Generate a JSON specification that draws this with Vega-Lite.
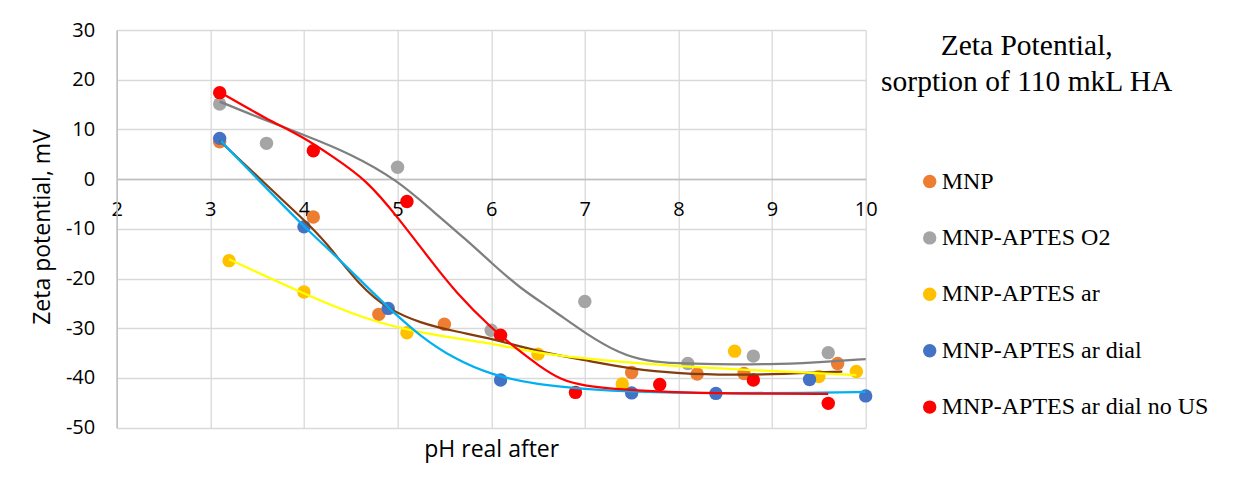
{
  "$schema": "https://vega.github.io/schema/vega-lite/v6.json",
  "width": 749,
  "height": 397.7,
  "autosize": {"type": "none"},
  "padding": {"left": 116.7, "top": 30, "right": 372.3, "bottom": 72.3},
  "background": "white",
  "config": {
    "view": {"stroke": null},
    "axis": {"gridColor": "#D9D9D9", "gridWidth": 1.3, "domainColor": "#BFBFBF", "domainWidth": 1.5, "ticks": false, "labelFont": "Open Sans", "titleFont": "Open Sans", "labelColor": "#000000", "titleColor": "#000000", "titleFontWeight": "normal"}
  },
  "title": {
    "text": ["Zeta Potential,", "sorption of 110 mkL HA"],
    "anchor": "end",
    "frame": "group",
    "align": "center",
    "dx": 161,
    "dy": 81,
    "font": "Liberation Serif",
    "fontSize": 29.5,
    "fontWeight": "normal",
    "color": "#000000",
    "lineHeight": 36
  },
  "datasets": {
    "pts": [
      {"s": "MNP", "x": 3.1, "y": 7.5}, {"s": "MNP", "x": 4.1, "y": -7.6}, {"s": "MNP", "x": 4.8, "y": -27.2}, {"s": "MNP", "x": 5.5, "y": -29.2},
      {"s": "MNP", "x": 7.5, "y": -38.9}, {"s": "MNP", "x": 8.2, "y": -39.2}, {"s": "MNP", "x": 8.7, "y": -39.1}, {"s": "MNP", "x": 9.7, "y": -37.1},
      {"s": "MNP-APTES O2", "x": 3.1, "y": 15.1}, {"s": "MNP-APTES O2", "x": 3.6, "y": 7.2}, {"s": "MNP-APTES O2", "x": 5.0, "y": 2.4}, {"s": "MNP-APTES O2", "x": 6.0, "y": -30.4},
      {"s": "MNP-APTES O2", "x": 7.0, "y": -24.6}, {"s": "MNP-APTES O2", "x": 8.1, "y": -37.1}, {"s": "MNP-APTES O2", "x": 8.8, "y": -35.6}, {"s": "MNP-APTES O2", "x": 9.6, "y": -34.9},
      {"s": "MNP-APTES ar", "x": 3.2, "y": -16.4}, {"s": "MNP-APTES ar", "x": 4.0, "y": -22.7}, {"s": "MNP-APTES ar", "x": 5.1, "y": -30.9}, {"s": "MNP-APTES ar", "x": 6.5, "y": -35.2},
      {"s": "MNP-APTES ar", "x": 7.4, "y": -41.2}, {"s": "MNP-APTES ar", "x": 8.6, "y": -34.6}, {"s": "MNP-APTES ar", "x": 9.5, "y": -39.7}, {"s": "MNP-APTES ar", "x": 9.9, "y": -38.7},
      {"s": "MNP-APTES ar dial", "x": 3.1, "y": 8.2}, {"s": "MNP-APTES ar dial", "x": 4.0, "y": -9.6}, {"s": "MNP-APTES ar dial", "x": 4.9, "y": -26.0}, {"s": "MNP-APTES ar dial", "x": 6.1, "y": -40.4},
      {"s": "MNP-APTES ar dial", "x": 7.5, "y": -43.0}, {"s": "MNP-APTES ar dial", "x": 8.4, "y": -43.1}, {"s": "MNP-APTES ar dial", "x": 9.4, "y": -40.3}, {"s": "MNP-APTES ar dial", "x": 10.0, "y": -43.6},
      {"s": "MNP-APTES ar dial no US", "x": 3.1, "y": 17.4}, {"s": "MNP-APTES ar dial no US", "x": 4.1, "y": 5.7}, {"s": "MNP-APTES ar dial no US", "x": 5.1, "y": -4.5}, {"s": "MNP-APTES ar dial no US", "x": 6.1, "y": -31.4},
      {"s": "MNP-APTES ar dial no US", "x": 6.9, "y": -42.9}, {"s": "MNP-APTES ar dial no US", "x": 7.8, "y": -41.3}, {"s": "MNP-APTES ar dial no US", "x": 8.8, "y": -40.4}, {"s": "MNP-APTES ar dial no US", "x": 9.6, "y": -45.1}
    ],
    "trend": [
      {"s": "MNP", "x": 3.1, "y": 7.7}, {"s": "MNP", "x": 3.5, "y": 0.6}, {"s": "MNP", "x": 4.0, "y": -8.2}, {"s": "MNP", "x": 4.22, "y": -12.3},
      {"s": "MNP", "x": 4.6, "y": -21.6}, {"s": "MNP", "x": 4.91, "y": -26.3}, {"s": "MNP", "x": 5.24, "y": -28.9}, {"s": "MNP", "x": 5.6, "y": -30.6},
      {"s": "MNP", "x": 6.0, "y": -32.0}, {"s": "MNP", "x": 6.5, "y": -34.7}, {"s": "MNP", "x": 7.0, "y": -36.4}, {"s": "MNP", "x": 7.5, "y": -38.2},
      {"s": "MNP", "x": 8.0, "y": -39.1}, {"s": "MNP", "x": 8.6, "y": -39.4}, {"s": "MNP", "x": 9.1, "y": -39.2}, {"s": "MNP", "x": 9.75, "y": -38.7},
      {"s": "MNP-APTES O2", "x": 3.1, "y": 15.6}, {"s": "MNP-APTES O2", "x": 3.5, "y": 12.5}, {"s": "MNP-APTES O2", "x": 4.0, "y": 8.9}, {"s": "MNP-APTES O2", "x": 4.49, "y": 5.2},
      {"s": "MNP-APTES O2", "x": 5.0, "y": -0.2}, {"s": "MNP-APTES O2", "x": 5.38, "y": -6.5}, {"s": "MNP-APTES O2", "x": 5.74, "y": -12.3}, {"s": "MNP-APTES O2", "x": 6.0, "y": -16.8},
      {"s": "MNP-APTES O2", "x": 6.31, "y": -22.0}, {"s": "MNP-APTES O2", "x": 6.66, "y": -26.3}, {"s": "MNP-APTES O2", "x": 7.0, "y": -31.0}, {"s": "MNP-APTES O2", "x": 7.38, "y": -35.2},
      {"s": "MNP-APTES O2", "x": 7.66, "y": -36.6}, {"s": "MNP-APTES O2", "x": 8.0, "y": -37.1}, {"s": "MNP-APTES O2", "x": 8.37, "y": -37.2}, {"s": "MNP-APTES O2", "x": 9.0, "y": -37.3},
      {"s": "MNP-APTES O2", "x": 9.44, "y": -36.9}, {"s": "MNP-APTES O2", "x": 10.0, "y": -36.2},
      {"s": "MNP-APTES ar", "x": 3.2, "y": -16.1}, {"s": "MNP-APTES ar", "x": 4.0, "y": -23.1}, {"s": "MNP-APTES ar", "x": 4.67, "y": -28.3}, {"s": "MNP-APTES ar", "x": 5.24, "y": -31.0},
      {"s": "MNP-APTES ar", "x": 6.0, "y": -33.0}, {"s": "MNP-APTES ar", "x": 6.5, "y": -35.0}, {"s": "MNP-APTES ar", "x": 7.0, "y": -36.1}, {"s": "MNP-APTES ar", "x": 7.37, "y": -36.7},
      {"s": "MNP-APTES ar", "x": 8.0, "y": -37.7}, {"s": "MNP-APTES ar", "x": 9.0, "y": -38.6}, {"s": "MNP-APTES ar", "x": 9.9, "y": -39.4},
      {"s": "MNP-APTES ar dial", "x": 3.11, "y": 7.7}, {"s": "MNP-APTES ar dial", "x": 3.5, "y": 0.1}, {"s": "MNP-APTES ar dial", "x": 4.0, "y": -9.6}, {"s": "MNP-APTES ar dial", "x": 4.31, "y": -14.9},
      {"s": "MNP-APTES ar dial", "x": 4.67, "y": -21.6}, {"s": "MNP-APTES ar dial", "x": 4.91, "y": -26.0}, {"s": "MNP-APTES ar dial", "x": 5.24, "y": -31.6}, {"s": "MNP-APTES ar dial", "x": 5.6, "y": -36.1},
      {"s": "MNP-APTES ar dial", "x": 6.0, "y": -39.4}, {"s": "MNP-APTES ar dial", "x": 6.5, "y": -41.4}, {"s": "MNP-APTES ar dial", "x": 7.0, "y": -42.2}, {"s": "MNP-APTES ar dial", "x": 7.5, "y": -42.8},
      {"s": "MNP-APTES ar dial", "x": 8.4, "y": -43.1}, {"s": "MNP-APTES ar dial", "x": 9.4, "y": -43.0}, {"s": "MNP-APTES ar dial", "x": 10.0, "y": -42.8},
      {"s": "MNP-APTES ar dial no US", "x": 3.11, "y": 17.4}, {"s": "MNP-APTES ar dial no US", "x": 3.6, "y": 12.1}, {"s": "MNP-APTES ar dial no US", "x": 4.0, "y": 8.4}, {"s": "MNP-APTES ar dial no US", "x": 4.31, "y": 4.5},
      {"s": "MNP-APTES ar dial no US", "x": 4.67, "y": -0.2}, {"s": "MNP-APTES ar dial no US", "x": 5.0, "y": -7.6}, {"s": "MNP-APTES ar dial no US", "x": 5.38, "y": -17.0}, {"s": "MNP-APTES ar dial no US", "x": 5.61, "y": -22.5},
      {"s": "MNP-APTES ar dial no US", "x": 6.0, "y": -30.0}, {"s": "MNP-APTES ar dial no US", "x": 6.31, "y": -34.7}, {"s": "MNP-APTES ar dial no US", "x": 6.5, "y": -37.4}, {"s": "MNP-APTES ar dial no US", "x": 6.74, "y": -40.4},
      {"s": "MNP-APTES ar dial no US", "x": 7.0, "y": -41.6}, {"s": "MNP-APTES ar dial no US", "x": 7.37, "y": -42.3}, {"s": "MNP-APTES ar dial no US", "x": 8.0, "y": -43.0}, {"s": "MNP-APTES ar dial no US", "x": 9.0, "y": -43.2},
      {"s": "MNP-APTES ar dial no US", "x": 9.6, "y": -43.2}
    ]
  },
  "layer": [
    {
      "data": {"name": "pts"},
      "mark": {"type": "circle", "size": 180, "opacity": 1, "strokeWidth": 0},
      "encoding": {
        "x": {
          "field": "x", "type": "quantitative",
          "scale": {"domain": [2, 10], "nice": false, "zero": false},
          "axis": {"values": [2, 3, 4, 5, 6, 7, 8, 9, 10], "labelExpr": "datum.value < 0 ? '-' + abs(datum.value) : '' + datum.value", "title": "pH real after", "offset": -248.7, "labelFontSize": 20, "labelPadding": 20, "titleFontSize": 23, "titleY": 277, "titleBaseline": "alphabetic", "labelFlush": false, "labelOverlap": false, "grid": true}
        },
        "y": {
          "field": "y", "type": "quantitative",
          "scale": {"domain": [-50, 30], "nice": false, "zero": false},
          "axis": {"values": [-50, -40, -30, -20, -10, 0, 10, 20, 30], "labelExpr": "datum.value < 0 ? '-' + abs(datum.value) : '' + datum.value", "title": "Zeta potential, mV", "labelFontSize": 20, "labelPadding": 22, "titleFontSize": 23, "titleX": -67.4, "titleY": 196.5, "titleAngle": -90, "titleAlign": "center", "titleBaseline": "alphabetic", "grid": true}
        },
        "fill": {
          "field": "s", "type": "nominal",
          "scale": {"domain": ["MNP", "MNP-APTES O2", "MNP-APTES ar", "MNP-APTES ar dial", "MNP-APTES ar dial no US"], "range": ["#ED7D31", "#A5A5A5", "#FFC000", "#4472C4", "#FF0000"]},
          "legend": {"title": null, "orient": "none", "legendX": 801, "legendY": 139.5, "padding": 0, "symbolType": "circle", "symbolSize": 180, "symbolStrokeWidth": 0, "symbolOpacity": 1, "labelFont": "Liberation Serif", "labelFontSize": 24, "labelColor": "#000000", "labelOffset": 0, "rowPadding": 32.4, "labelLimit": 400}
        }
      }
    },
    {
      "data": {"name": "trend"},
      "mark": {"type": "line", "interpolate": "basis", "strokeWidth": 2.25},
      "encoding": {
        "x": {"field": "x", "type": "quantitative"},
        "y": {"field": "y", "type": "quantitative"},
        "detail": {"field": "s", "type": "nominal"},
        "stroke": {
          "field": "s", "type": "nominal",
          "scale": {"domain": ["MNP", "MNP-APTES O2", "MNP-APTES ar", "MNP-APTES ar dial", "MNP-APTES ar dial no US"], "range": ["#843C0C", "#7F7F7F", "#FFFF00", "#00B0F0", "#FF0000"]},
          "legend": null
        }
      }
    }
  ]
}
